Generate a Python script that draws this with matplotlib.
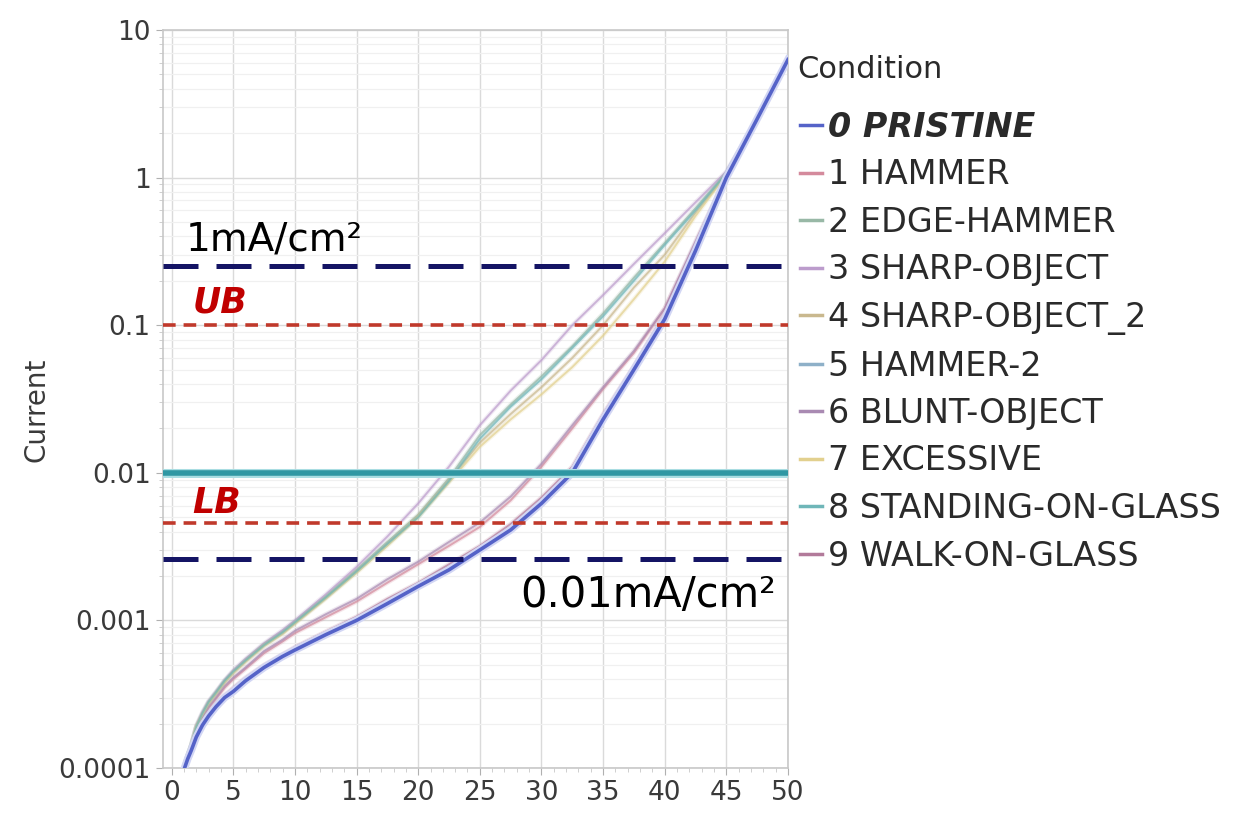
import matplotlib
matplotlib.use("Agg")
import matplotlib.pyplot as plt
import matplotlib.patheffects as pe
from matplotlib.ticker import LogLocator, FixedLocator, MultipleLocator, NullFormatter

plt.rcParams['font.family'] = ['DejaVu Sans']

# sweep points shared by all conditions
x_pts = [1.05, 1.3, 1.6, 2, 2.5, 3, 3.6, 4.3, 5, 6, 7.5, 9, 10, 12.5, 15, 17.5, 20,
         22.5, 25, 27.5, 30, 32.5, 35, 37.5, 40, 42.5, 45, 47.5, 50]

pristine = [1.0e-4, 1.15e-4, 1.32e-4, 1.62e-4, 1.95e-4, 2.25e-4, 2.6e-4, 3.0e-4, 3.3e-4, 3.9e-4, 4.8e-4,
            5.7e-4, 6.3e-4, 8.0e-4, 1.0e-3, 1.3e-3, 1.7e-3, 2.2e-3, 3.0e-3, 4.1e-3, 6.2e-3, 1.0e-2,
            2.3e-2, 5.0e-2, 0.11, 0.32, 1.0, 2.5, 6.3]
hammer = [1.0e-4, 1.17e-4, 1.38e-4, 1.75e-4, 2.15e-4, 2.55e-4, 2.95e-4, 3.5e-4, 4.0e-4, 4.7e-4, 6.0e-4,
          7.2e-4, 8.2e-4, 1.05e-3, 1.34e-3, 1.8e-3, 2.4e-3, 3.2e-3, 4.3e-3, 6.5e-3, 1.1e-2, 2.0e-2,
          3.7e-2, 6.5e-2, 0.13, 0.36, 1.02, 2.5, 6.3]
edge_hammer = [1.05e-4, 1.22e-4, 1.44e-4, 1.9e-4, 2.35e-4, 2.8e-4, 3.25e-4, 3.9e-4, 4.5e-4, 5.4e-4, 6.9e-4,
               8.4e-4, 9.8e-4, 1.45e-3, 2.2e-3, 3.4e-3, 5.2e-3, 9.2e-3, 1.8e-2, 2.9e-2, 4.5e-2, 7.2e-2,
               0.12, 0.21, 0.36, 0.62, 1.08, 2.5, 6.3]
sharp_object = [1.05e-4, 1.22e-4, 1.45e-4, 1.95e-4, 2.4e-4, 2.85e-4, 3.3e-4, 3.95e-4, 4.6e-4, 5.5e-4, 7.0e-4,
                8.6e-4, 1.0e-3, 1.5e-3, 2.3e-3, 3.7e-3, 6.2e-3, 1.1e-2, 2.1e-2, 3.6e-2, 5.8e-2, 0.1,
                0.16, 0.26, 0.42, 0.68, 1.1, 2.5, 6.3]
sharp_object_2 = [1.05e-4, 1.22e-4, 1.43e-4, 1.9e-4, 2.3e-4, 2.75e-4, 3.2e-4, 3.85e-4, 4.45e-4, 5.3e-4, 6.8e-4,
                  8.2e-4, 9.6e-4, 1.42e-3, 2.15e-3, 3.3e-3, 5.1e-3, 8.9e-3, 1.6e-2, 2.5e-2, 3.8e-2, 6.0e-2,
                  0.1, 0.18, 0.3, 0.58, 1.06, 2.5, 6.3]
hammer_2 = [1.0e-4, 1.16e-4, 1.34e-4, 1.65e-4, 2.0e-4, 2.3e-4, 2.65e-4, 3.05e-4, 3.4e-4, 4.0e-4, 4.9e-4,
            5.8e-4, 6.5e-4, 8.2e-4, 1.03e-3, 1.35e-3, 1.75e-3, 2.3e-3, 3.1e-3, 4.3e-3, 6.5e-3, 1.05e-2,
            2.4e-2, 5.2e-2, 0.115, 0.33, 1.0, 2.5, 6.3]
blunt_object = [1.0e-4, 1.18e-4, 1.4e-4, 1.8e-4, 2.2e-4, 2.6e-4, 3.0e-4, 3.6e-4, 4.1e-4, 4.8e-4, 6.2e-4,
                7.4e-4, 8.5e-4, 1.1e-3, 1.4e-3, 1.9e-3, 2.5e-3, 3.4e-3, 4.6e-3, 6.9e-3, 1.15e-2, 2.1e-2,
                3.8e-2, 6.7e-2, 0.13, 0.37, 1.03, 2.5, 6.3]
excessive = [1.05e-4, 1.22e-4, 1.43e-4, 1.9e-4, 2.3e-4, 2.75e-4, 3.2e-4, 3.8e-4, 4.4e-4, 5.25e-4, 6.7e-4,
             8.1e-4, 9.5e-4, 1.4e-3, 2.1e-3, 3.2e-3, 5.0e-3, 8.6e-3, 1.5e-2, 2.3e-2, 3.4e-2, 5.2e-2,
             8.5e-2, 0.15, 0.27, 0.55, 1.05, 2.5, 6.3]
standing_on_glass = [1.05e-4, 1.22e-4, 1.44e-4, 1.9e-4, 2.35e-4, 2.8e-4, 3.25e-4, 3.9e-4, 4.5e-4, 5.35e-4, 6.8e-4,
                     8.3e-4, 9.7e-4, 1.43e-3, 2.15e-3, 3.3e-3, 5.0e-3, 8.8e-3, 1.7e-2, 2.8e-2, 4.3e-2, 7.0e-2,
                     0.115, 0.2, 0.35, 0.6, 1.07, 2.5, 6.3]
walk_on_glass = [1.0e-4, 1.17e-4, 1.36e-4, 1.68e-4, 2.05e-4, 2.35e-4, 2.72e-4, 3.12e-4, 3.5e-4, 4.1e-4, 5.0e-4,
                 5.9e-4, 6.6e-4, 8.4e-4, 1.06e-3, 1.4e-3, 1.8e-3, 2.4e-3, 3.2e-3, 4.5e-3, 6.8e-3, 1.1e-2,
                 2.5e-2, 5.3e-2, 0.12, 0.34, 1.0, 2.5, 6.3]

conditions = ['0 PRISTINE', '1 HAMMER', '2 EDGE-HAMMER', '3 SHARP-OBJECT', '4 SHARP-OBJECT_2',
              '5 HAMMER-2', '6 BLUNT-OBJECT', '7 EXCESSIVE', '8 STANDING-ON-GLASS', '9 WALK-ON-GLASS']
series = [pristine, hammer, edge_hammer, sharp_object, sharp_object_2,
          hammer_2, blunt_object, excessive, standing_on_glass, walk_on_glass]
colors = ['#5563c8', '#d48a9c', '#98b8a6', '#bc9ccc', '#c9b88e',
          '#8eb0c8', '#a98ab2', '#e2d08e', '#6fb6b8', '#b27a9a']

# reference levels
level_hi = 0.25     # 1mA/cm2
level_ub = 0.1
level_mid = 0.01
level_lb = 0.0046
level_lo = 0.0026   # 0.01mA/cm2

fig = plt.figure(figsize=(12.34, 8.24), dpi=100)
ax = fig.add_axes([163 / 1234, 1 - 768 / 824, 625 / 1234, 738 / 824])
ax.set_yscale('log')
ax.set_xlim(-0.7, 50)
ax.set_ylim(1e-4, 10)

# grid
ax.set_xticks(range(0, 51, 5))
ax.xaxis.set_minor_locator(MultipleLocator(1))
ax.yaxis.set_major_locator(FixedLocator([1e-4, 1e-3, 1e-2, 1e-1, 1, 10]))
ax.yaxis.set_minor_locator(LogLocator(base=10, subs=range(2, 10)))
ax.yaxis.set_minor_formatter(NullFormatter())
ax.set_yticklabels(['0.0001', '0.001', '0.01', '0.1', '1', '10'])
ax.grid(True, which='major', color='#dadada', lw=1.0)
ax.grid(True, which='minor', axis='y', color='#f0f0f0', lw=0.9)
ax.set_axisbelow(True)

for sp in ax.spines.values():
    sp.set_color('#c8c8c8')
    sp.set_linewidth(1.2)
ax.tick_params(which='major', length=5, color='#b0b0b0', labelsize=19, labelcolor='#3a3a3a', pad=4)
ax.tick_params(which='minor', length=3, color='#c8c8c8')
ax.set_ylabel('Current', fontsize=20, color='#3a3a3a')
ax.yaxis.set_label_coords(-0.18, 0.485)

# condition curves, pristine drawn last so it sits on top
handles = [None] * len(series)
for i in list(range(1, len(series))) + [0]:
    if i == 0:
        ln, = ax.plot(x_pts, series[i], color=colors[i], lw=2.6, zorder=4, solid_joinstyle='round',
                      path_effects=[pe.Stroke(linewidth=5.5, foreground='#d2d6f4'), pe.Normal()])
    else:
        ln, = ax.plot(x_pts, series[i], color=colors[i], lw=1.4, alpha=0.7, zorder=3,
                      solid_joinstyle='round',
                      path_effects=[pe.Stroke(linewidth=3.2, foreground=colors[i], alpha=0.2), pe.Normal()])
    handles[i] = ln

# limit lines
ax.axhline(level_mid, color='#2f97a3', lw=4, zorder=5,
           path_effects=[pe.Stroke(linewidth=6.5, foreground='#a9dde2'), pe.Normal()])
ax.axhline(level_hi, color='#141464', lw=3.6, dashes=(7, 3.6), zorder=6)
ax.axhline(level_lo, color='#141464', lw=3.6, dashes=(7, 3.6), zorder=6)
ax.axhline(level_ub, color='#c0392b', lw=2.6, dashes=(3.5, 2.2), zorder=6)
ax.axhline(level_lb, color='#c0392b', lw=2.6, dashes=(3.5, 2.2), zorder=6)

ax.text(1.1, 0.32, '1mA/cm²', fontsize=28, color='black', va='baseline', zorder=7)
ax.text(28.3, 0.00124, '0.01mA/cm²', fontsize=30, color='black', va='baseline', zorder=7)
ax.text(1.7, 0.122, 'UB', fontsize=25, color='#c00000', weight='bold', style='italic',
        va='baseline', zorder=7)
ax.text(1.7, 0.0053, 'LB', fontsize=25, color='#c00000', weight='bold', style='italic',
        va='baseline', zorder=7)

# legend: heading placed on its own, entries below it
fig.text(797 / 1234, 1 - 70 / 824, 'Condition', fontsize=22, color='#2a2a2a', va='center', ha='left')
leg = ax.legend(handles, conditions, loc='upper left',
                bbox_to_anchor=(800 / 1234, 1 - 111 / 824), bbox_transform=fig.transFigure,
                frameon=False, fontsize=24, handlelength=0.66,
                handletextpad=0.18, labelspacing=0.435, borderpad=0, borderaxespad=0)
for t in leg.get_texts():
    t.set_color('#2a2a2a')
leg.get_texts()[0].set_fontweight('bold')
leg.get_texts()[0].set_fontstyle('italic')
for lh in leg.get_lines():
    lh.set_linewidth(2.5)
    lh.set_alpha(1.0)
    lh.set_path_effects([])

fig.savefig('out.png', dpi=100)
